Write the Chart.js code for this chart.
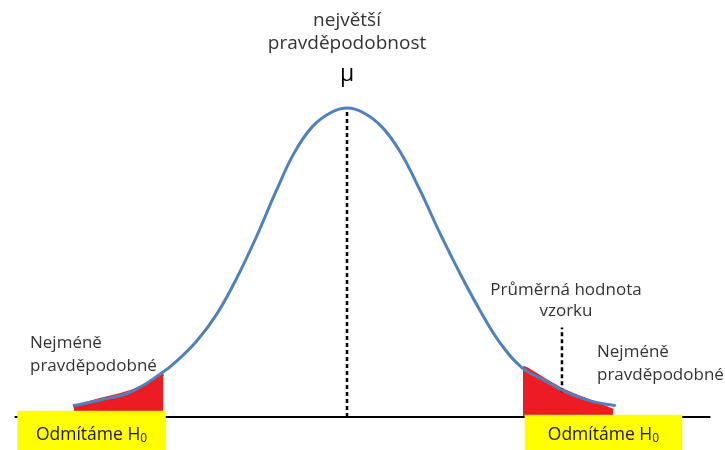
<!DOCTYPE html>
<html lang="cs">
<head>
<meta charset="utf-8">
<title>Normální rozdělení</title>
<script src="https://cdn.jsdelivr.net/npm/chart.js@4.4.1/dist/chart.umd.min.js"></script>
<style>
    html, body { margin: 0; padding: 0; background: #fff; }
    #wrap { width: 725px; height: 450px; position: relative; }
</style>
</head>
<body>
<div id="wrap"><canvas id="chart"></canvas></div>
<script>
// Bell curve: x in sigma units from the mean, y relative to the peak
const curveX = [-3.01, -2.71, -2.38, -2.05, -1.87, -1.65, -1.43, -1.21, -1.0, -0.78, -0.58, -0.38, -0.18, 0,
                0.18, 0.38, 0.58, 0.80, 1.02, 1.24, 1.46, 1.68, 1.92, 2.18, 2.40, 2.67, 2.95];
const curveY = [0.036, 0.055, 0.080, 0.139, 0.181, 0.246, 0.333, 0.450, 0.580, 0.730, 0.855, 0.940, 0.985, 1,
                0.985, 0.940, 0.860, 0.735, 0.595, 0.465, 0.345, 0.240, 0.160, 0.117, 0.081, 0.052, 0.036];

// Red rejection tails
const leftTailX = [-3.0, -2.71, -2.38, -2.2, -2.02];
const leftTailY = [0.03, 0.055, 0.08, 0.105, 0.14];
const rightTailX = [1.93, 2.0, 2.18, 2.40, 2.67, 2.92];
const rightTailY = [0.16, 0.15, 0.117, 0.081, 0.05, 0.02];

// Horizontal axis line, mean line and sample mean line
const baseX = [-3.65, 3.99];
const meanX = 0;
const meanTop = 1;
const sampleX = 2.36;
const sampleSpan = [0.08, 0.29];

// Texts
const topLabel = ['největší', 'pravděpodobnost'];
const muLabel = 'μ';
const leastLabel = ['Nejméně', 'pravděpodobné'];
const sampleLabel = ['Průměrná hodnota', 'vzorku'];
const rejectLabel = 'Odmítáme H';
const rejectSub = '0';

const toPoints = (xs, ys) => xs.map((x, i) => ({ x: x, y: ys[i] }));

const FONT = '"Open Sans", "Noto Sans", sans-serif';
const TEXT = '#333333';

// Draws the labels and the yellow boxes on top of the curve
const annotations = {
    id: 'annotations',
    afterDatasetsDraw(chart) {
        const ctx = chart.ctx;
        const xs = chart.scales.x, ys = chart.scales.y;
        const px = v => xs.getPixelForValue(v);
        const py = v => ys.getPixelForValue(v);

        ctx.save();
        ctx.textBaseline = 'middle';

        // yellow boxes
        const boxes = [
            { from: -3.62, to: -1.99, top: 0.02 },
            { from: 1.95, to: 3.68, top: 0.007 }
        ];
        boxes.forEach(b => {
            const x0 = px(b.from), x1 = px(b.to), y0 = py(b.top);
            ctx.fillStyle = '#ffff00';
            ctx.fillRect(x0, y0, x1 - x0, chart.height - y0);

            ctx.fillStyle = '#1a1a1a';
            ctx.font = '17.5px ' + FONT;
            const w1 = ctx.measureText(rejectLabel).width;
            ctx.font = '12px ' + FONT;
            const w2 = ctx.measureText(rejectSub).width;
            const cx = (x0 + x1) / 2;
            const start = cx - (w1 + w2) / 2;
            const ty = 435;
            ctx.textAlign = 'left';
            ctx.font = '17.5px ' + FONT;
            ctx.fillText(rejectLabel, start, ty);
            ctx.font = '12px ' + FONT;
            ctx.fillText(rejectSub, start + w1, ty + 4);
        });

        ctx.fillStyle = TEXT;

        // top labels
        ctx.textAlign = 'center';
        ctx.font = '19px ' + FONT;
        ctx.fillText(topLabel[0], px(meanX), 21);
        ctx.fillText(topLabel[1], px(meanX), 44);
        ctx.fillStyle = '#000';
        ctx.font = '23px ' + FONT;
        ctx.fillText(muLabel, px(meanX), 74);

        // sample mean label
        ctx.fillStyle = TEXT;
        ctx.font = '17px ' + FONT;
        ctx.fillText(sampleLabel[0], px(sampleX) + 4, 290);
        ctx.fillText(sampleLabel[1], px(sampleX) + 4, 311);

        // least likely labels
        ctx.textAlign = 'left';
        ctx.fillText(leastLabel[0], 30, 343);
        ctx.fillText(leastLabel[1], 30, 366);
        ctx.fillText(leastLabel[0], 597, 352);
        ctx.fillText(leastLabel[1], 597, 375);

        ctx.restore();
    }
};

new Chart(document.getElementById('chart'), {
    type: 'line',
    data: {
        datasets: [
            {
                label: 'curve',
                data: toPoints(curveX, curveY),
                borderColor: '#4f81bd',
                borderWidth: 3,
                tension: 0.4,
                pointRadius: 0,
                fill: false,
                order: 0
            },
            {
                label: 'left tail',
                data: toPoints(leftTailX, leftTailY),
                borderColor: '#ec1c24',
                backgroundColor: '#ec1c24',
                borderWidth: 4,
                tension: 0.4,
                pointRadius: 0,
                fill: 'origin',
                order: 3
            },
            {
                label: 'right tail',
                data: toPoints(rightTailX, rightTailY),
                borderColor: '#ec1c24',
                backgroundColor: '#ec1c24',
                borderWidth: 4,
                tension: 0.4,
                pointRadius: 0,
                fill: 'origin',
                order: 3
            },
            {
                label: 'axis',
                data: toPoints(baseX, [0, 0]),
                borderColor: '#000',
                borderWidth: 2,
                pointRadius: 0,
                fill: false,
                order: 2
            },
            {
                label: 'mean',
                data: toPoints([meanX, meanX], [0, meanTop]),
                borderColor: '#000',
                borderWidth: 2.5,
                borderDash: [4, 3],
                pointRadius: 0,
                fill: false,
                order: 1
            },
            {
                label: 'sample',
                data: toPoints([sampleX, sampleX], sampleSpan),
                borderColor: '#000',
                borderWidth: 2.5,
                borderDash: [4, 3],
                pointRadius: 0,
                fill: false,
                order: 1
            }
        ]
    },
    options: {
        responsive: true,
        maintainAspectRatio: false,
        animation: false,
        layout: { padding: 0 },
        scales: {
            x: { type: 'linear', min: -3.81, max: 4.15, display: false },
            y: { min: -0.107, max: 1.35, display: false }
        },
        plugins: {
            legend: { display: false },
            tooltip: { enabled: false }
        }
    },
    plugins: [annotations]
});
</script>
</body>
</html>
